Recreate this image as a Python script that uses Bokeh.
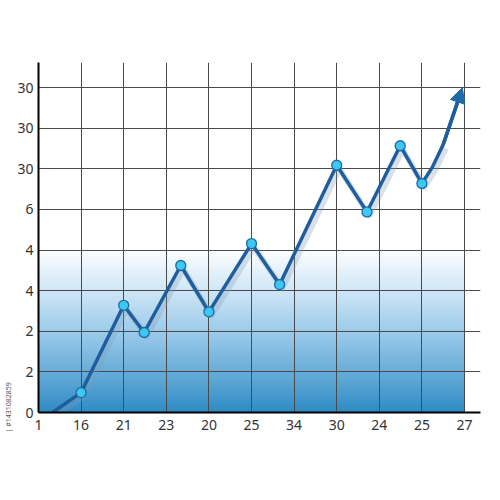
import numpy as np
from bokeh.plotting import figure
from bokeh.models import Range1d, FixedTicker, Arrow, NormalHead, Title, ColumnDataSource
from bokeh.embed import file_html
from bokeh.resources import INLINE

# ---- data ----
x_tick_labels = ["1", "16", "21", "23", "20", "25", "34", "30", "24", "25", "27"]
y_tick_labels = ["0", "2", "2", "4", "4", "6", "30", "30", "30"]

line_x = [0.33, 1.0, 2.0, 2.48, 3.34, 4.0, 5.0, 5.66, 7.0, 7.71, 8.49, 9.0, 9.25, 9.5]
line_y = [0.0, 0.49, 2.64, 1.97, 3.62, 2.48, 4.16, 3.15, 6.09, 4.94, 6.57, 5.64, 6.05, 6.6]
marker_x = [1.0, 2.0, 2.48, 3.34, 4.0, 5.0, 5.66, 7.0, 7.71, 8.49, 9.0]
marker_y = [0.49, 2.64, 1.97, 3.62, 2.48, 4.16, 3.15, 6.09, 4.94, 6.57, 5.64]
arrow_tip_x = 9.95
arrow_tip_y = 8.0
stock_id = "| #1431082859"

# ---- style ----
FONT = "Noto Sans"
LINE_COLOR = "#1f5d9c"
GRAD_TOP = 4.1
grad_stops_v = [0.0, 1.0, 2.0, 3.0, 3.8, GRAD_TOP]
grad_stops_c = ["#2e8bc4", "#68acd8", "#9ccbea", "#cfe6f6", "#f3f9fd", "#ffffff"]

n_x = len(x_tick_labels)
n_y = len(y_tick_labels)

p = figure(width=492, height=480, output_backend="svg", toolbar_location=None,
           x_range=Range1d(0, (n_x - 1) * 1.0375), y_range=Range1d(0, (n_y - 1) * 1.0775),
           min_border_left=37, min_border_right=12, min_border_top=62, min_border_bottom=68)
p.outline_line_color = None
p.background_fill_color = "white"
p.border_fill_color = "white"

# gradient background (overlapping thin strips)
def hex2rgb(h):
    h = h.lstrip("#")
    return np.array([int(h[i:i + 2], 16) for i in (0, 2, 4)], dtype=float)

stops_rgb = np.array([hex2rgb(c) for c in grad_stops_c])
edges = np.linspace(0, GRAD_TOP, 90)
mids = (edges[:-1] + edges[1:]) / 2
cols = []
for m in mids:
    rgb = [np.interp(m, grad_stops_v, stops_rgb[:, k]) for k in range(3)]
    cols.append("#%02x%02x%02x" % tuple(int(round(v)) for v in rgb))
tops = [min(t + 0.04, GRAD_TOP) for t in edges[1:]]
gsrc = ColumnDataSource(dict(left=[0] * len(mids), right=[n_x - 1] * len(mids),
                             bottom=edges[:-1], top=tops, color=cols))
p.quad(left="left", right="right", bottom="bottom", top="top", fill_color="color",
       line_color=None, source=gsrc, level="image")

# grid
p.xgrid.ticker = FixedTicker(ticks=list(range(n_x)))
p.ygrid.ticker = FixedTicker(ticks=list(range(n_y)))
p.xgrid.grid_line_color = "#4a4a4a"
p.ygrid.grid_line_color = "#4a4a4a"
p.xgrid.grid_line_width = 1
p.ygrid.grid_line_width = 1
p.xgrid.level = "underlay"
p.ygrid.level = "underlay"

# axes
for ax in (p.xaxis[0], p.yaxis[0]):
    ax.axis_line_color = "black"
    ax.axis_line_width = 2
    ax.major_tick_out = 0
    ax.major_tick_in = 0
    ax.minor_tick_out = 0
    ax.minor_tick_in = 0
    ax.major_label_text_font = FONT
    ax.major_label_text_font_size = "14px"
    ax.major_label_text_color = "#333333"

p.xaxis.ticker = FixedTicker(ticks=list(range(n_x)))
p.xaxis.major_label_overrides = {i: t for i, t in enumerate(x_tick_labels)}
p.xaxis.major_label_standoff = 7
p.yaxis.ticker = FixedTicker(ticks=list(range(n_y)))
p.yaxis.major_label_overrides = {i: t for i, t in enumerate(y_tick_labels)}
p.yaxis.major_label_standoff = 5

# shadow of the line
p.line([x + 0.06 for x in line_x], [y - 0.09 for y in line_y], line_color="#7f9db8",
       line_alpha=0.3, line_width=6, line_join="round")
# main line
p.line(line_x + [arrow_tip_x - 0.12], line_y + [arrow_tip_y - 0.38], line_color=LINE_COLOR,
       line_width=3.5, line_join="round", line_cap="round")
# markers
p.scatter(marker_x, marker_y, size=10, fill_color="#3cc8f0", line_color="#1b6aa6", line_width=1.3)
# arrow head
p.add_layout(Arrow(end=NormalHead(size=15, fill_color="#1f6aa8", line_color="#1f6aa8"),
                   x_start=line_x[-1], y_start=line_y[-1], x_end=arrow_tip_x, y_end=arrow_tip_y,
                   line_color=LINE_COLOR, line_width=3.5))

# stock id text on the left (vertical, reading upwards, near the bottom)
p.add_layout(Title(text=stock_id, align="left", offset=-20, text_font=FONT,
                   text_font_size="7px", text_font_style="normal", text_color="#555555",
                   standoff=3), "left")

open("out.html", "w").write(file_html(p, INLINE))
